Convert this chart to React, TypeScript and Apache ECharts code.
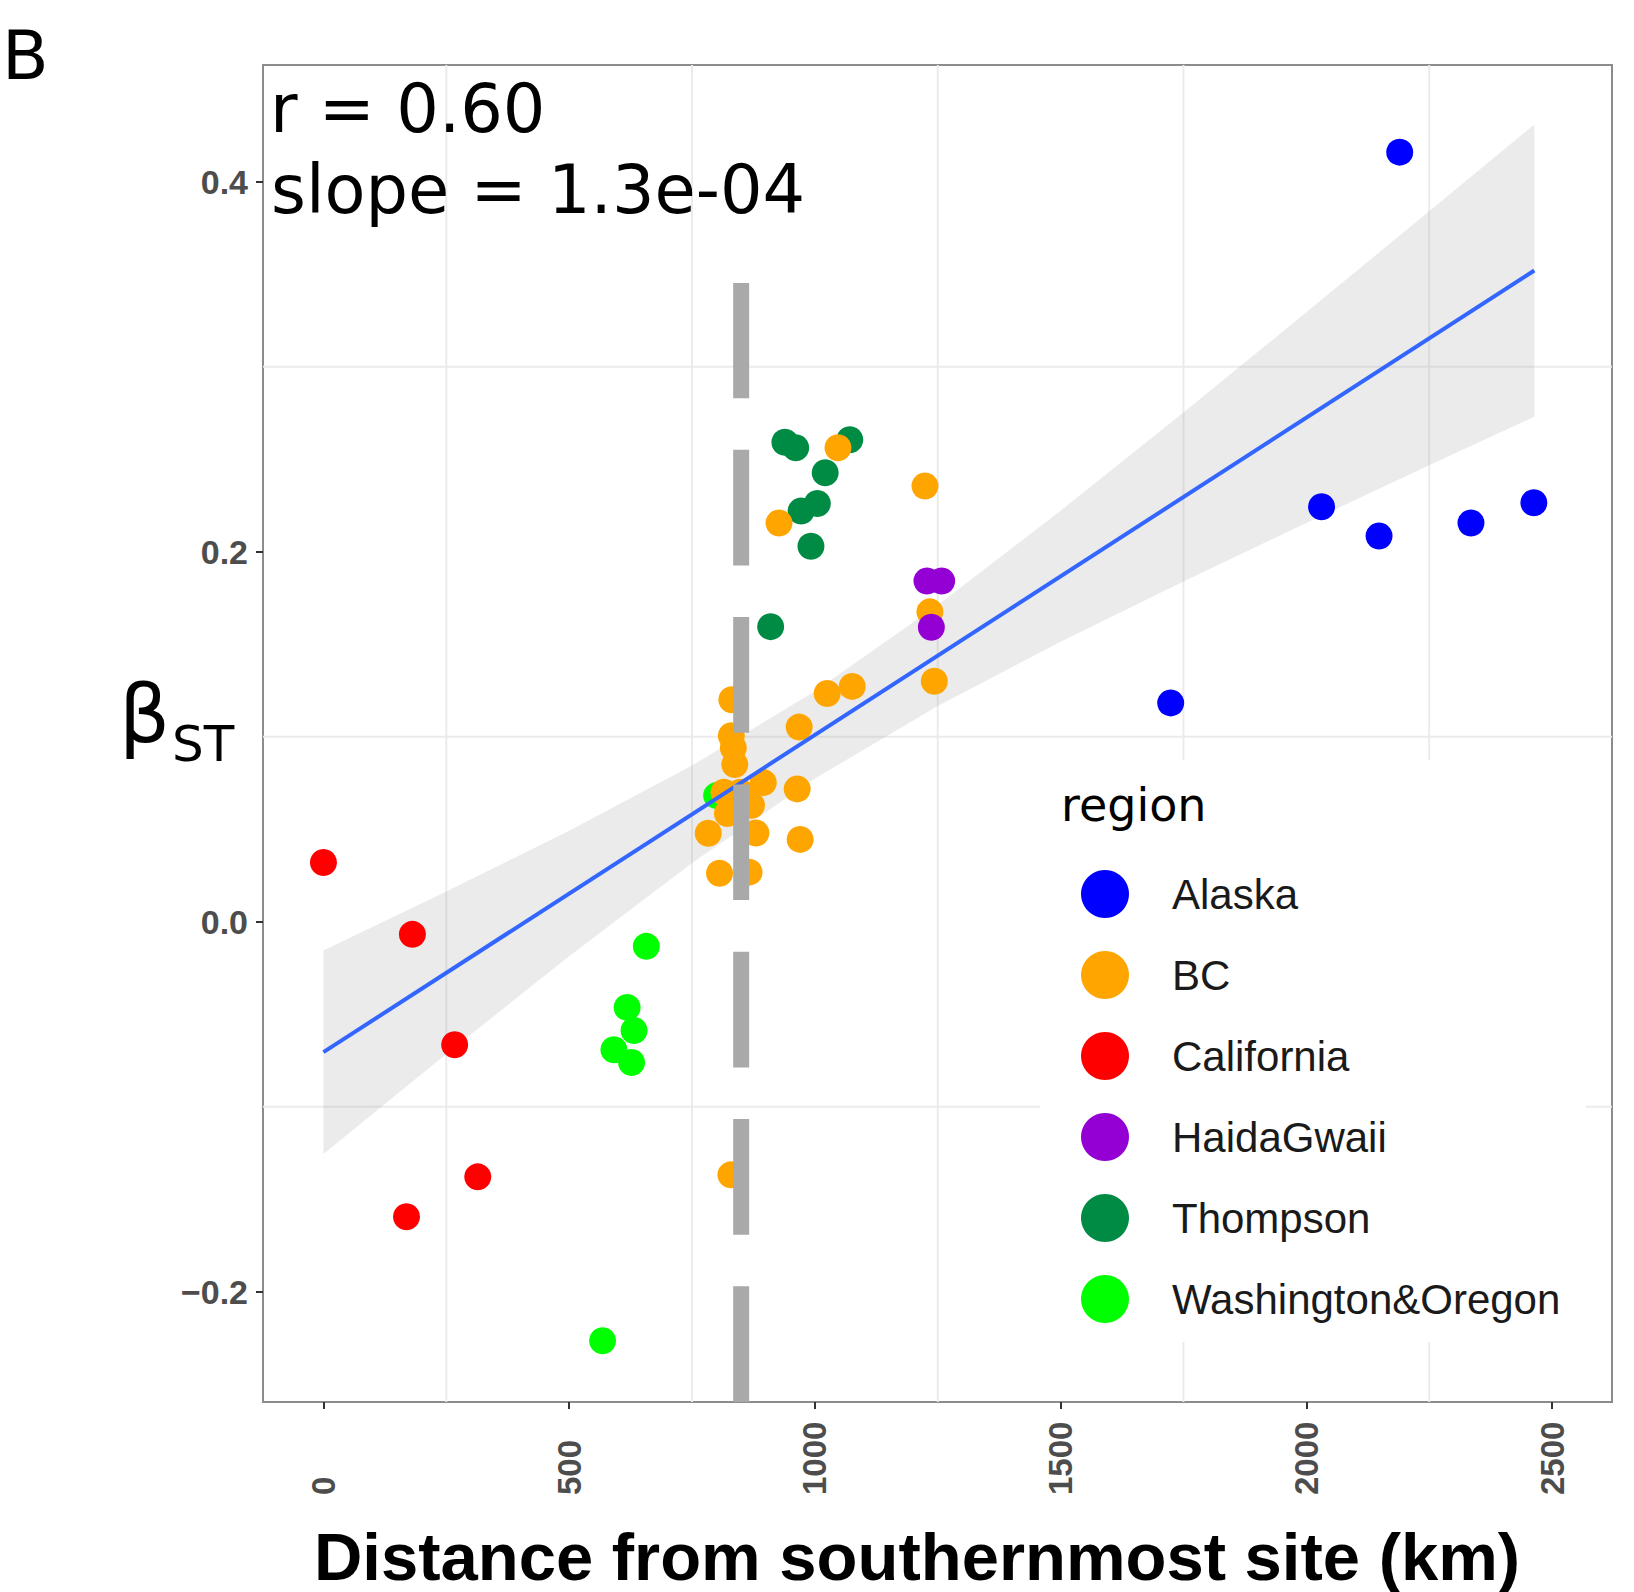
import React, { useEffect, useRef } from "react";
import * as echarts from "echarts";

// ---------- axes ----------
const xMin = -123;
const xMax = 2622;
const yMin = -0.2596;
const yMax = 0.4631;
const xTicks = [0, 500, 1000, 1500, 2000, 2500];
const yTicks = [-0.2, 0.0, 0.2, 0.4];
const xMinorGrid = [250, 750, 1250, 1750, 2250];
const yMinorGrid = [-0.1, 0.1, 0.3];

// ---------- regions ----------
const regions = ["Alaska", "BC", "California", "HaidaGwaii", "Thompson", "Washington&Oregon"];
const regionColors = ["#0000FF", "#FFA500", "#FF0000", "#9400D3", "#008B45", "#00FF00"];

// ---------- points (distance km, beta_ST) ----------
const alaskaX = [2190, 2031, 2148, 2335, 2463, 1724];
const alaskaY = [0.416, 0.2243, 0.2085, 0.2155, 0.2265, 0.1183];

const bcX = [927, 1047, 1224, 1234, 1243, 1025, 1076, 968, 964, 970, 895, 871, 831, 830, 834, 837, 822, 783, 880, 806, 866, 829, 848, 815];
const bcY = [0.2155, 0.2562, 0.2355, 0.1675, 0.13, 0.1234, 0.1272, 0.1052, 0.0718, 0.0445, 0.0752, 0.063, 0.12, 0.1005, 0.094, 0.085, 0.0585, 0.0478, 0.048, 0.0262, 0.0268, -0.1368, 0.07, 0.07];

const californiaX = [0, 181, 267, 314, 169];
const californiaY = [0.032, -0.0068, -0.0665, -0.1379, -0.1595];

const haidaX = [1228, 1258, 1237];
const haidaY = [0.1842, 0.1842, 0.1592];

const thompsonX = [939, 961, 1071, 1021, 1005, 972, 992, 910];
const thompsonY = [0.2592, 0.2562, 0.2605, 0.2427, 0.2261, 0.222, 0.203, 0.1595];

const waOrX = [657, 618, 632, 591, 627, 568, 800];
const waOrY = [-0.0133, -0.0463, -0.0588, -0.0692, -0.0761, -0.2265, 0.0682];

// ---------- fitted line and confidence band ----------
const fitX = [0, 2464];
const fitY = [-0.0705, 0.352];
const bandX = [0, 250, 500, 750, 1000, 1250, 1500, 1750, 2000, 2250, 2464];
const bandUpper = [-0.0155, 0.0163, 0.0492, 0.0844, 0.1246, 0.1712, 0.2222, 0.2753, 0.3294, 0.3841, 0.431];
const bandLower = [-0.1255, -0.0715, -0.0186, 0.0318, 0.0774, 0.1166, 0.1514, 0.1839, 0.2156, 0.2467, 0.273];

// ---------- dashed reference line ----------
const vlineX = 850;
const vlineTop = 0.3453;

const regionX = [alaskaX, bcX, californiaX, haidaX, thompsonX, waOrX];
const regionY = [alaskaY, bcY, californiaY, haidaY, thompsonY, waOrY];
const regionZ = [3, 4, 3, 5, 3, 2];

const SANS = "Liberation Sans";
const DJV = "DejaVu Sans";

function txt(text: string, x: number, y: number, size: number, family: string, opts: any = {}) {
  return {
    type: "text",
    x,
    y,
    z: 10,
    silent: true,
    style: {
      text,
      fill: opts.fill || "#000000",
      fontSize: size,
      fontFamily: family,
      fontWeight: opts.weight || "normal",
      align: opts.align || "left",
      textAlign: opts.align || "left",
      verticalAlign: "middle",
      textVerticalAlign: "middle",
    },
  };
}

export default function App() {
  const ref = useRef<HTMLDivElement>(null);

  useEffect(() => {
    if (!ref.current) return;
    const chart = echarts.init(ref.current, null, { renderer: "svg" });

    const pointSeries = regions.map((name, k) => ({
      name,
      type: "scatter",
      data: regionX[k].map((x, i) => [x, regionY[k][i]]),
      symbol: "circle",
      symbolSize: 27,
      itemStyle: { color: regionColors[k], opacity: 1 },
      z: regionZ[k],
      silent: true,
    }));

    const option: any = {
      animation: false,
      backgroundColor: "#ffffff",
      grid: {
        left: 263,
        right: 22,
        top: 65,
        bottom: 190,
        show: true,
        borderColor: "#8c8c8c",
        borderWidth: 2,
        backgroundColor: "transparent",
      },
      xAxis: {
        type: "value",
        min: xMin,
        max: xMax,
        splitLine: { show: false },
        axisLine: { show: false, onZero: false },
        axisTick: { show: true, length: 7, customValues: xTicks, lineStyle: { color: "#333333", width: 2 } },
        axisLabel: {
          customValues: xTicks,
          rotate: 90,
          align: "left",
          verticalAlign: "middle",
          margin: 93,
          fontFamily: SANS,
          fontWeight: "bold",
          fontSize: 33,
          color: "#4d4d4d",
          formatter: (v: number) => String(Math.round(v)),
        },
      },
      yAxis: {
        type: "value",
        min: yMin,
        max: yMax,
        splitLine: { show: false },
        axisLine: { show: false, onZero: false },
        axisTick: { show: true, length: 7, customValues: yTicks, lineStyle: { color: "#333333", width: 2 } },
        axisLabel: {
          customValues: yTicks,
          margin: 15,
          fontFamily: SANS,
          fontWeight: "bold",
          fontSize: 34,
          color: "#4d4d4d",
          formatter: (v: number) => (v < -1e-9 ? "\u2212" : "") + Math.abs(v).toFixed(1),
        },
      },
      legend: {
        data: regions,
        orient: "vertical",
        left: 1081,
        top: 870,
        padding: 0,
        itemWidth: 124,
        itemHeight: 48,
        itemGap: 33,
        icon: "circle",
        selectedMode: false,
        z: 8,
        textStyle: { fontFamily: SANS, fontSize: 42, color: "#1a1a1a" },
      },
      graphic: [
        { type: "rect", z: 4, silent: true, shape: { x: 1040, y: 760, width: 546, height: 582 }, style: { fill: "#ffffff" } },
        txt("B", 2, 55, 68, DJV),
        txt("r = 0.60", 270, 109, 67, DJV),
        txt("slope = 1.3e-04", 271, 190, 67, DJV),
        txt("\u03B2", 119, 714, 80, DJV),
        txt("ST", 172, 744, 50, DJV),
        txt("Distance from southernmost site (km)", 917, 1556, 67, SANS, { weight: "bold", align: "center" }),
        txt("region", 1061, 805, 46, DJV),
      ],
      series: [
        {
          type: "custom",
          name: "gridX",
          silent: true,
          z: 0,
          data: xMinorGrid.map((v) => [v, 0]),
          renderItem: (params: any, api: any) => {
            const v = api.value(0);
            const p1 = api.coord([v, yMin]);
            const p2 = api.coord([v, yMax]);
            return { type: "line", shape: { x1: p1[0], y1: p1[1], x2: p2[0], y2: p2[1] }, style: { stroke: "#ebebeb", lineWidth: 2 } };
          },
        },
        {
          type: "custom",
          name: "gridY",
          silent: true,
          z: 0,
          data: yMinorGrid.map((v) => [0, v]),
          renderItem: (params: any, api: any) => {
            const v = api.value(1);
            const p1 = api.coord([xMin, v]);
            const p2 = api.coord([xMax, v]);
            return { type: "line", shape: { x1: p1[0], y1: p1[1], x2: p2[0], y2: p2[1] }, style: { stroke: "#ebebeb", lineWidth: 2 } };
          },
        },
        {
          type: "custom",
          name: "band",
          silent: true,
          z: 1,
          data: [[bandX[0], bandLower[0]]],
          renderItem: (params: any, api: any) => {
            const pts: number[][] = [];
            for (let i = 0; i < bandX.length; i++) pts.push(api.coord([bandX[i], bandUpper[i]]));
            for (let i = bandX.length - 1; i >= 0; i--) pts.push(api.coord([bandX[i], bandLower[i]]));
            return { type: "polygon", shape: { points: pts }, style: { fill: "rgba(153,153,153,0.2)" } };
          },
        },
        ...pointSeries,
        {
          type: "line",
          name: "fit",
          silent: true,
          z: 6,
          symbol: "none",
          data: fitX.map((x, i) => [x, fitY[i]]),
          lineStyle: { color: "#3366FF", width: 4 },
        },
        {
          type: "line",
          name: "vline",
          silent: true,
          z: 7,
          symbol: "none",
          data: [
            [vlineX, yMin],
            [vlineX, vlineTop],
          ],
          lineStyle: { color: "#A9A9A9", width: 16, type: [115.7, 51.6], cap: "butt" },
        },
      ],
    };

    chart.setOption(option);
    return () => chart.dispose();
  }, []);

  return <div ref={ref} style={{ position: "absolute", left: 0, top: 0, width: 1634, height: 1592 }} />;
}
